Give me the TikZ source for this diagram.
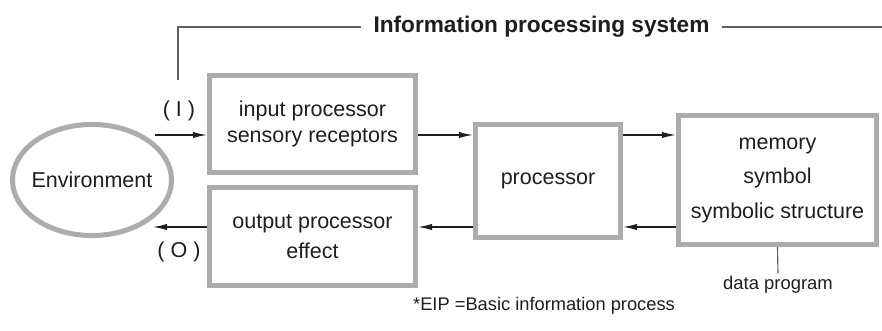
\documentclass[tikz,border=0pt]{standalone}
\usepackage{fontspec}
\setmainfont{Liberation Sans}
\usetikzlibrary{shapes.geometric,arrows.meta}
\definecolor{boxgray}{RGB}{172,172,172}
\definecolor{linegray}{RGB}{95,95,95}
\definecolor{ink}{RGB}{30,30,30}
\tikzset{
  procbox/.style={draw=boxgray, line width=3.6pt, align=center, text=ink,
    font=\fontsize{15.3}{18.5}\selectfont, inner sep=0pt},
  flow/.style={draw=ink, line width=0.9pt, -{Latex[length=10pt,width=4.5pt]}},
  thinline/.style={draw=linegray, line width=0.8pt},
}
\begin{document}
\begin{tikzpicture}[x=0.025cm, y=-0.025cm]
      \useasboundingbox (0,0) rectangle (882,330);
      % the boxes
      \node[ellipse, draw=boxgray, line width=3.6pt, inner sep=0pt,
        minimum width=3.975cm, minimum height=2.775cm, text=ink,
        font=\fontsize{15.3}{18.5}\selectfont] (env) at (92,180)
        {\makebox[0pt]{Environment}};
      \node[procbox, minimum width=5.15cm, minimum height=2.425cm] (inp) at (312.5,124)
        {input processor\\sensory receptors};
      \node[procbox, minimum width=5.15cm, minimum height=2.45cm] (outp) at (312.5,236.5)
        {output processor\\[3pt]effect};
      \node[procbox, minimum width=3.625cm, minimum height=2.825cm] (proc) at (548,181)
        {processor};
      \node[procbox, minimum width=4.95cm, minimum height=3.225cm] (mem) at (777.5,180)
        {memory\\[6pt]symbol\\[6pt]symbolic structure};
      % flow of information
      \coordinate (in) at (155,135);
      \coordinate (out) at (153,227);
      \draw[flow] (in) -- (inp.west |- in);
      \draw[flow] (inp.east |- in) -- (proc.west |- in);
      \draw[flow] (proc.east |- in) -- (mem.west |- in);
      \draw[flow] (mem.west |- out) -- (proc.east |- out);
      \draw[flow] (proc.west |- out) -- (outp.east |- out);
      \draw[flow] (outp.west |- out) -- (out);
      \node[text=ink, font=\fontsize{15.3}{18.5}\selectfont] (ilabel) at (179,111) {( I )};
      \node[text=ink, font=\fontsize{15.3}{18.5}\selectfont] (olabel) at (179,252) {( O )};
      % system bracket
      \node[text=ink, font=\bfseries\fontsize{16.1}{19}\selectfont, inner xsep=0.3cm]
        (title) at (541.5,27) {Information processing system};
      \coordinate (brk) at (178,80);
      \coordinate (rim) at (882,27);
      \draw[thinline] (brk) |- (title.west);
      \draw[thinline] (title.east) -- (title.east -| rim);
      % memory contents and note
      \node[text=ink, font=\fontsize{13.1}{16}\selectfont, inner ysep=2pt] (data) at (778,285)
        {data program};
      \draw[thinline] (mem.south) -- (data.north);
      \node[text=ink, font=\fontsize{13}{16}\selectfont] (eip) at (544,306)
        {*EIP =Basic information process};
\end{tikzpicture}
\end{document}
